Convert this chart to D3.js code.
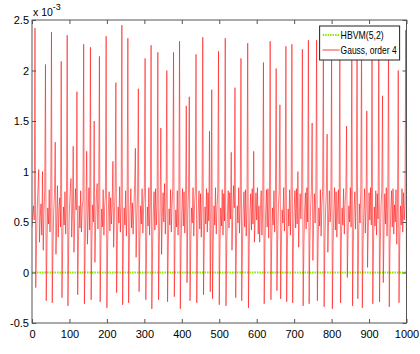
<!DOCTYPE html>
<html>
<head>
<meta charset="utf-8">
<script src="https://cdn.jsdelivr.net/npm/d3@7"></script>
<style>
  body { margin: 0; background: #fff; }
  text { font-family: "Liberation Sans", Arial, Helvetica, sans-serif; }
</style>
</head>
<body>
<div id="chart" style="width:420px;height:354px;"></div>
<script>
// Hamiltonian error of Gauss order 4, in units of 1e-3, one value every timeStep
var timeStep = 2;
var gaussErr = [
  0.45, 0.58, 0.66, 0.52, 2.42, -0.15, 0.28, 0.63, 0.84, 1.02,
  0.30, 0.55, 0.68, 0.37, 1.00, 0.22, 0.60, 0.80, 2.06, -0.28,
  0.27, 0.64, 0.48, 0.82, 0.40, 0.67, 2.38, -0.30, 0.26, 0.61,
  0.78, 1.29, 0.18, 0.52, 0.86, 0.35, 0.62, 0.74, 0.45, 2.09,
  -0.25, 0.30, 0.65, 0.47, 0.80, 0.38, 0.68, 2.35, -0.33, 0.29,
  0.63, 0.79, 0.93, 0.35, 0.58, 1.25, 0.20, 0.54, 0.83, 0.62,
  1.79, -0.22, 0.31, 0.66, 0.44, 0.81, 0.40, 0.64, 0.71, 2.26,
  -0.31, 0.27, 0.62, 1.20, 0.28, 0.57, 0.84, 0.42, 2.23, -0.27,
  0.33, 0.67, 0.50, 1.50, 0.10, 0.48, 0.78, 0.88, 0.43, 0.69,
  2.14, -0.29, 0.28, 0.63, 0.45, 0.82, 0.37, 0.65, 0.76, 2.34,
  -0.35, 0.26, 0.62, 0.80, 0.41, 0.74, 0.48, 0.66, 1.10, 0.25,
  0.56, 0.82, 1.88, -0.20, 0.32, 0.65, 0.49, 0.85, 0.40, 0.68,
  2.45, -0.32, 0.29, 0.64, 0.47, 0.81, 0.36, 0.67, 2.32, -0.30,
  0.27, 0.63, 0.83, 0.44, 0.69, 0.38, 0.62, 0.87, 1.23, 0.15,
  0.55, 0.78, 1.82, -0.19, 0.31, 0.66, 0.48, 0.83, 0.39, 0.64,
  0.80, 2.12, -0.27, 0.28, 0.65, 0.46, 0.84, 0.37, 0.69, 2.25,
  -0.36, 0.25, 0.61, 0.80, 0.42, 0.83, 0.47, 0.66, 2.18, -0.27,
  0.30, 0.64, 1.43, 0.18, 0.55, 0.79, 0.50, 0.88, 0.38, 0.67,
  2.00, -0.29, 0.27, 0.63, 0.47, 0.82, 0.40, 0.68, 0.84, 2.18,
  -0.24, 0.32, 0.62, 0.45, 0.81, 0.37, 0.66, 2.29, -0.36, 0.26,
  0.61, 0.83, 0.46, 0.80, 0.39, 0.65, 1.65, -0.10, 0.58, 0.82,
  1.74, -0.28, 0.29, 0.64, 0.49, 0.84, 0.36, 0.67, 0.80, 2.16,
  -0.30, 0.27, 0.62, 0.81, 0.43, 0.78, 0.35, 0.66, 2.33, -0.22,
  0.31, 0.65, 0.48, 0.83, 0.40, 0.79, 0.51, 1.40, -0.19, 0.52,
  1.81, -0.26, 0.30, 0.66, 0.47, 0.84, 0.38, 0.63, 0.80, 2.19,
  -0.32, 0.28, 0.64, 0.46, 0.82, 0.37, 0.78, 0.51, 2.32, -0.33,
  0.26, 0.60, 0.81, 0.44, 0.79, 0.53, 1.19, 0.22, 0.57, 0.86,
  0.64, 1.83, -0.25, 0.31, 0.66, 0.49, 0.84, 0.39, 0.67, 2.12,
  -0.28, 0.27, 0.63, 0.80, 0.45, 0.82, 0.36, 0.65, 2.27, -0.35,
  0.25, 0.61, 0.78, 0.42, 0.83, 0.48, 1.20, 0.30, 0.55, 0.79,
  0.52, 0.84, 0.38, 0.66, 0.30, 0.63, 0.81, 0.37, 0.64, 2.08,
  -0.31, 0.29, 0.60, 0.82, 0.45, 0.83, 0.34, 0.67, 2.29, -0.27,
  0.30, 0.64, 0.47, 0.81, 0.40, 0.78, 2.02, -0.18, 0.33, 0.66,
  0.80, 1.66, -0.26, 0.28, 0.62, 0.49, 0.84, 0.41, 0.69, 2.24,
  -0.29, 0.27, 0.63, 0.46, 0.82, 0.37, 0.76, 2.26, -0.30, 0.28,
  0.62, 0.81, 0.44, 0.83, 0.48, 1.00, 0.25, 0.57, 0.78, 0.53,
  0.82, 2.21, -0.33, 0.26, 0.61, 0.79, 0.43, 0.84, 0.50, 2.30,
  -0.31, 0.31, 0.66, 0.81, 1.48, 0.12, 0.52, 0.78, 0.49, 0.83,
  2.30, -0.28, 0.29, 0.64, 0.46, 0.82, 0.36, 0.67, 0.80, 2.25,
  -0.34, 0.27, 0.62, 0.79, 1.37, 0.20, 0.55, 0.81, 0.50, 0.66,
  2.20, -0.36, 0.26, 0.63, 0.84, 0.42, 0.80, 0.35, 0.65, 0.82,
  0.48, 2.25, -0.30, 0.29, 0.64, 0.47, 0.83, 0.38, 0.68, 0.81,
  1.45, -0.05, 0.40, 0.66, 0.50, 0.84, 0.45, 2.30, -0.33, 0.28,
  0.62, 0.80, 0.43, 0.77, 2.20, -0.26, 0.32, 0.68, 0.49, 0.82,
  2.30, -0.35, 0.27, 0.61, 0.83, 0.39, 0.66, 1.60, 0.05, 0.44,
  0.79, 0.52, 0.84, 0.47, 2.25, -0.31, 0.30, 0.65, 0.46, 0.81,
  0.37, 0.78, 0.53, 2.20, -0.29, 0.28, 0.66, 0.82, 1.75, -0.10,
  0.41, 0.78, 0.48, 0.84, 0.36, 0.69, 2.30, -0.34, 0.29, 0.63,
  0.81, 0.45, 0.83, 0.38, 0.67, 0.50, 0.82, 0.28, 0.64, 2.00,
  -0.30, 0.31, 0.66, 0.47, 0.83, 0.40, 0.79, 0.52, 0.70, 2.40,
  -0.15
];
// HBVM(5,2) error stays at round-off level
var hbvmTime = [0, 100, 200, 300, 400, 500, 600, 700, 800, 900, 1000];
var hbvmErr = [0, 0, 0, 0, 0, 0, 0, 0, 0, 0, 0];

var xTicks = [0, 100, 200, 300, 400, 500, 600, 700, 800, 900, 1000];
var yTicks = [-0.5, 0, 0.5, 1, 1.5, 2, 2.5];
var legendLabels = ["HBVM(5,2)", "Gauss, order 4"];

var margin = {top: 20, right: 13.5, bottom: 31, left: 32};
var width = 420 - margin.left - margin.right;
var height = 354 - margin.top - margin.bottom;

var svg = d3.select("#chart")
    .append("svg")
        .attr("width", 420)
        .attr("height", 354)
    .append("g")
        .attr("transform", "translate(" + margin.left + "," + margin.top + ")");

var x = d3.scaleLinear().domain([0, 1000]).range([0, width]);
var y = d3.scaleLinear().domain([-0.5, 2.5]).range([height, 0]);

svg.append("defs").append("clipPath").attr("id", "clip")
    .append("rect").attr("width", width).attr("height", height);

var plot = svg.append("g").attr("clip-path", "url(#clip)");

var hbvmLine = d3.line()
    .x((d, i) => x(hbvmTime[i]))
    .y(d => y(d));

plot.append("path")
    .datum(hbvmErr)
    .attr("fill", "none")
    .attr("stroke", "#88ee00")
    .attr("stroke-width", 2)
    .attr("stroke-dasharray", "1.5,1")
    .attr("d", hbvmLine);

var gaussLine = d3.line()
    .x((d, i) => x(i * timeStep))
    .y(d => y(d));

plot.append("path")
    .datum(gaussErr)
    .attr("fill", "none")
    .attr("stroke", "#ff0000")
    .attr("stroke-width", 0.9)
    .attr("stroke-opacity", 0.6)
    .attr("d", gaussLine);

// axes, matlab style box with inner ticks
var fmt = d => String(d);
var axisColor = "#555";

function styleAxis(g) {
    g.select(".domain").remove();
    g.selectAll(".tick line").attr("stroke", axisColor);
    g.selectAll("text").attr("fill", "#000").attr("font-size", 11)
        .attr("font-family", "'Liberation Sans', Arial, sans-serif");
}

svg.append("g")
    .attr("transform", "translate(0," + height + ")")
    .call(d3.axisBottom(x).tickValues(xTicks).tickFormat(fmt).tickSize(-4).tickPadding(7))
    .call(styleAxis);

svg.append("g")
    .call(d3.axisTop(x).tickValues(xTicks).tickFormat("").tickSize(-4))
    .call(styleAxis);

svg.append("g")
    .call(d3.axisLeft(y).tickValues(yTicks).tickFormat(fmt).tickSize(-4).tickPadding(3))
    .call(styleAxis);

svg.append("g")
    .attr("transform", "translate(" + width + ",0)")
    .call(d3.axisRight(y).tickValues(yTicks).tickFormat("").tickSize(-4))
    .call(styleAxis);

svg.append("rect")
    .attr("width", width)
    .attr("height", height)
    .attr("fill", "none")
    .attr("stroke", axisColor)
    .attr("stroke-width", 1);

// exponent label
var expo = svg.append("text")
    .attr("x", 1)
    .attr("y", -4)
    .attr("font-size", 10.5)
    .attr("fill", "#000");
expo.append("tspan").text("x 10");
expo.append("tspan").attr("dy", -6).attr("font-size", 9).text("-3");

// legend
var legend = svg.append("g")
    .attr("transform", "translate(" + x(768) + ",6)");

legend.append("rect")
    .attr("width", 80)
    .attr("height", 34)
    .attr("fill", "#fff")
    .attr("stroke", "#222")
    .attr("stroke-width", 1);

var legendStyles = [
    {stroke: "#88ee00", dash: "1.5,1", width: 2},
    {stroke: "#ff3b3b", dash: null, width: 1}
];

legendLabels.forEach(function(label, i) {
    var row = legend.append("g").attr("transform", "translate(0," + (9 + i * 15) + ")");
    row.append("line")
        .attr("x1", 3).attr("x2", 20)
        .attr("stroke", legendStyles[i].stroke)
        .attr("stroke-width", legendStyles[i].width)
        .attr("stroke-dasharray", legendStyles[i].dash);
    row.append("text")
        .attr("x", 21)
        .attr("y", 4)
        .attr("font-size", 11)
        .attr("textLength", i === 0 ? 43 : 56)
        .attr("lengthAdjust", "spacingAndGlyphs")
        .text(label);
});
</script>
</body>
</html>
